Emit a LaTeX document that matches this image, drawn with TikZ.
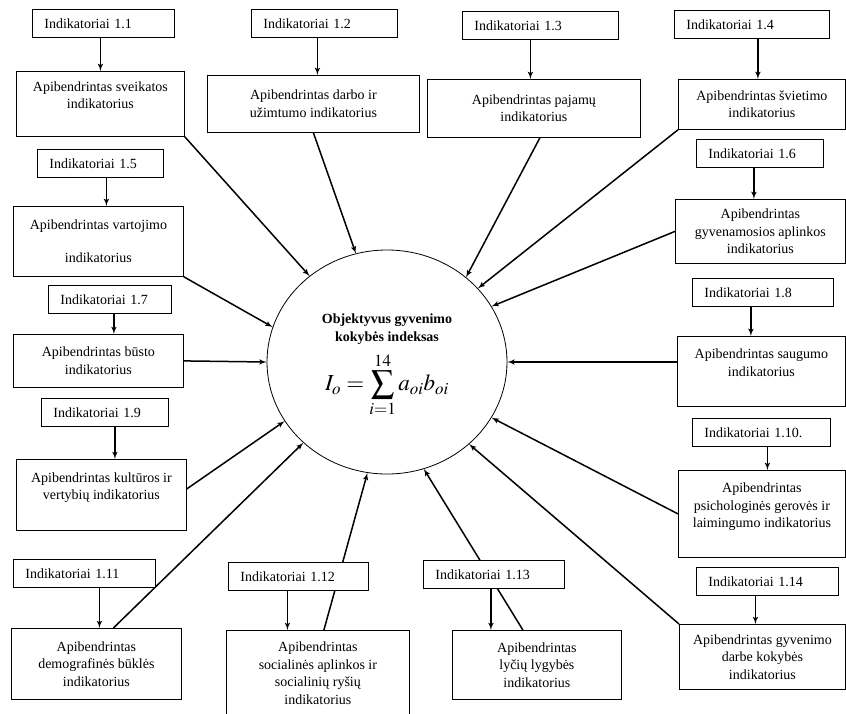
\documentclass[tikz,border=0pt]{standalone}
\usepackage{mathptmx}
\usepackage[no-math]{fontspec}
\setmainfont{Liberation Serif}
\usetikzlibrary{shapes}
\usetikzlibrary{arrows}
\usetikzlibrary{backgrounds}
\tikzset{
	box/.style = {draw=black, fill=white, line width=0.8pt, inner sep=0pt,
		font=\fontsize{14}{17.5}\selectfont},% bendras langelis
	ind/.style = {box, anchor=north west, align=left, inner xsep=12pt,
		minimum height=28pt},% indikatoriai, tekstas kairiau
	apib/.style = {box, anchor=north west, align=center},% apibendrintas indikatorius
	jung/.style = {->, >=latex', line width=1.5pt}% rodykle
}
\begin{document}
\begin{tikzpicture}[x=1pt, y=-1pt]
	\useasboundingbox (0,0) rectangle (846,713);
	\clip (0,0) rectangle (846,713);
	% centras
	\node [ellipse, draw, line width=0.8pt, minimum width=240pt, minimum height=224pt,
		inner sep=0pt, align=center, font=\fontsize{14}{17.5}\selectfont]
		(main) at (387,362) {\textbf{Objektyvus gyvenimo}\\\textbf{kokybės indeksas}\\[7pt]
		{\fontsize{23}{27}\selectfont $\displaystyle I_o=\sum_{i=1}^{14}a_{oi}b_{oi}$\hspace{8pt}}\\[-8pt]~};
	% indikatoriai
	\node [ind, text width=118pt] (ind1) at (32,9) {Indikatoriai 1.1};
	\node [ind, text width=122pt] (ind2) at (251,9) {Indikatoriai 1.2};
	\node [ind, text width=132pt] (ind3) at (462,11) {Indikatoriai 1.3};
	\node [ind, text width=131pt] (ind4) at (674,10) {Indikatoriai 1.4};
	\node [ind, text width=102pt] (ind5) at (37,149) {Indikatoriai 1.5};
	\node [ind, text width=103pt] (ind6) at (696,139) {Indikatoriai 1.6};
	\node [ind, text width=99pt] (ind7) at (48,285) {Indikatoriai 1.7};
	\node [ind, text width=117pt] (ind8) at (692,278) {Indikatoriai 1.8};
	\node [ind, text width=103pt] (ind9) at (41,398) {Indikatoriai 1.9};
	\node [ind, text width=114pt] (ind10) at (692,418) {Indikatoriai 1.10.};
	\node [ind, text width=118pt] (ind11) at (13,559) {Indikatoriai 1.11};
	\node [ind, text width=116pt] (ind12) at (228,562) {Indikatoriai 1.12};
	\node [ind, text width=117pt] (ind13) at (423,560) {Indikatoriai 1.13};
	\node [ind, text width=118pt] (ind14) at (696,567) {Indikatoriai 1.14};
	% apibendrinti indikatoriai
	\node [apib, minimum width=168pt, minimum height=65pt] (sveik) at (16,71)
		{Apibendrintas sveikatos\\indikatorius\\~};
	\node [apib, minimum width=212pt, minimum height=57pt] (darbo) at (207,75)
		{Apibendrintas darbo  ir\\užimtumo indikatorius};
	\node [apib, minimum width=213pt, minimum height=58pt] (pajamu) at (427,79)
		{Apibendrintas pajamų\\indikatorius};
	\node [apib, minimum width=167pt, minimum height=50pt] (svietimo) at (678,79)
		{Apibendrintas švietimo\\indikatorius};
	\node [apib, minimum width=170pt, minimum height=70pt] (vartojimo) at (13,206)
		{Apibendrintas vartojimo\\[15pt]indikatorius};
	\node [apib, minimum width=170pt, minimum height=64pt] (gyven) at (675,199)
		{Apibendrintas\\gyvenamosios aplinkos\\indikatorius};
	\node [apib, minimum width=170pt, minimum height=53pt] (busto) at (13,334)
		{Apibendrintas būsto\\indikatorius};
	\node [apib, minimum width=168pt, minimum height=70pt] (saugumo) at (677,336)
		{Apibendrintas saugumo\\indikatorius\\~};
	\node [apib, minimum width=170pt, minimum height=71pt] (kulturos) at (16,459)
		{Apibendrintas kultūros ir\\vertybių indikatorius\\~};
	\node [apib, minimum width=167pt, minimum height=87pt] (psich) at (678,470)
		{Apibendrintas\\psichologinės gerovės ir\\laimingumo indikatorius\\~};
	\node [apib, minimum width=170pt, minimum height=71pt] (demog) at (11,628)
		{Apibendrintas\\demografinės būklės\\indikatorius};
	\node [apib, minimum width=183pt, minimum height=86pt] (social) at (226,630)
		{Apibendrintas\\socialinės aplinkos ir\\socialinių ryšių\\indikatorius};
	\node [apib, minimum width=169pt, minimum height=69pt] (lycius) at (452,630)
		{Apibendrintas\\lyčių lygybės\\indikatorius};
	\node [apib, minimum width=166pt, minimum height=65pt] (gyvdarbe) at (679,624)
		{Apibendrintas gyvenimo\\darbe kokybės\\indikatorius};
	% rodykles
	\begin{scope}[on background layer]
		\foreach \a/\b/\s in {ind1/sveik/-3, ind2/darbo/-7, ind3/pajamu/-10,
			ind4/svietimo/6, ind5/vartojimo/6, ind6/gyven/-6, ind7/busto/4,
			ind8/saugumo/-12, ind9/kulturos/10, ind10/psich/6, ind11/demog/15,
			ind12/social/-11, ind13/lycius/-3, ind14/gyvdarbe/-12}
			\draw [jung] ([xshift=\s pt]\a.south) -- ([xshift=\s pt]\a.south |- \b.north);
		\draw [jung] (sveik.south east) -- (main.132);
		\draw [jung] (darbo.south) -- (main.106);
		\draw [jung] ([xshift=6pt]pajamu.south) -- (main.47);
		\draw [jung] (svietimo.south west) -- (main.39);
		\draw [jung] (gyven.west) -- (main.28);
		\draw [jung] (saugumo.west |- main.east) -- (main.east);
		\draw [jung] (psich.west) -- (main.332);
		\draw [jung] (gyvdarbe.north west) -- (main.315);
		\draw [jung] ([xshift=-14pt]lycius.north) -- (main.289);
		\draw [jung] ([xshift=6pt]social.north) -- (main.260);
		\draw [jung] ([xshift=17pt]demog.north) -- (main.224);
		\draw [jung] ([yshift=6pt]kulturos.east) -- (main.210);
		\draw [jung] (busto.east) -- (main.west);
		\draw [jung] (vartojimo.south east) -- (main.163);
	\end{scope}
\end{tikzpicture}
\end{document}
